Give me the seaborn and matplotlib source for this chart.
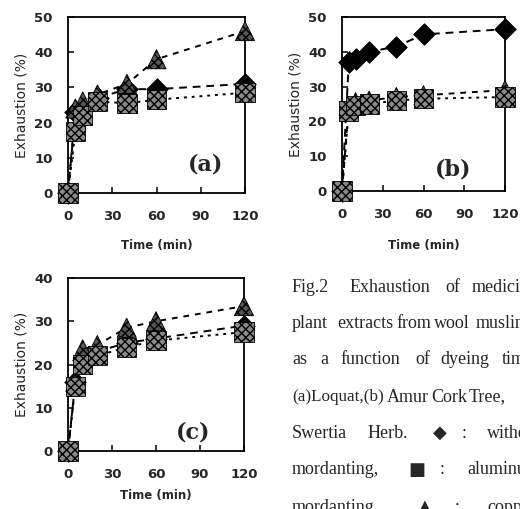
import matplotlib
matplotlib.use("Agg")
import matplotlib.pyplot as plt
import seaborn as sns
import pandas as pd

sns.set_theme(style="white")
plt.rcParams['font.family'] = ['DejaVu Sans']

time = [0, 5, 10, 20, 40, 60, 120]
a_without = [0, 23, 24, 27, 29.5, 29.5, 31]
a_alum = [0, 17.5, 22, 26, 25.5, 26.5, 28.5]
a_copper = [0, 24, 26, 28, 31, 38, 46]
b_without = [0, 37, 38, 40, 41.5, 45, 46.5]
b_alum = [0, 23, 24.5, 25, 26, 26.5, 27]
b_copper = [0, 24.5, 25.5, 26, 27, 27.5, 29]
c_without = [0, 16, 21, 23, 25, 26, 29]
c_alum = [0, 15, 20, 22, 24, 25.5, 27.5]
c_copper = [0, 16, 23.5, 24.5, 28.5, 30, 33.5]
xticks = [0, 30, 60, 90, 120]

W, H = 520, 509
fig = plt.figure(figsize=(W / 100, H / 100), dpi=100)


def px_axes(l, t, r, b):
    return fig.add_axes([l / W, 1 - b / H, (r - l) / W, (b - t) / H])


panels = [
    (px_axes(68, 17, 245, 193), a_without, a_alum, a_copper, 50, "(a)", (206, 165), 12),
    (px_axes(342, 17, 505, 191), b_without, b_alum, b_copper, 50, "(b)", (453, 170), 13),
    (px_axes(68, 278, 244, 451), c_without, c_alum, c_copper, 40, "(c)", (193, 432), 6),
]

tick_font = dict(family='DejaVu Sans', weight='bold', size=9.5)

for ax, wo, al, cu, ymax, lab, (lx, ly), lpad in panels:
    df = pd.DataFrame({"t": time, "wo": wo, "al": al, "cu": cu})
    sns.lineplot(data=df, x="t", y="cu", ax=ax, color="black", lw=1.4,
                 linestyle=(0, (3, 3)), zorder=2)
    sns.lineplot(data=df, x="t", y="wo", ax=ax, color="black", lw=1.4,
                 linestyle=(0, (4, 3)), zorder=2)
    sns.lineplot(data=df, x="t", y="al", ax=ax, color="black", lw=1.4,
                 linestyle=(0, (1.5, 2.5)), zorder=2)
    sns.scatterplot(data=df, x="t", y="cu", ax=ax, marker="^", s=190,
                    facecolor="#555555", edgecolor="black", linewidth=0.6,
                    hatch="xxxx", clip_on=False, zorder=4)
    sns.scatterplot(data=df, x="t", y="al", ax=ax, marker="s", s=190,
                    facecolor="#8a8a8a", edgecolor="black", linewidth=0.6,
                    hatch="xxxx", clip_on=False, zorder=5)
    sns.scatterplot(data=df, x="t", y="wo", ax=ax, marker="D", s=120,
                    facecolor="black", edgecolor="black", linewidth=0.6,
                    clip_on=False, zorder=3)
    ax.set_xlim(0, 120)
    ax.set_ylim(0, ymax)
    ax.set_xticks(xticks)
    ax.set_yticks(list(range(0, ymax + 1, 10)))
    ax.set_xticklabels([str(v) for v in xticks], fontdict=tick_font)
    ax.set_yticklabels([str(v) for v in range(0, ymax + 1, 10)], fontdict=tick_font)
    ax.tick_params(direction="in", length=4, width=1.1, pad=12, color="black",
                   bottom=True, left=True)
    ax.tick_params(axis="y", pad=11)
    for s in ax.spines.values():
        s.set_color("black")
        s.set_linewidth(1.3)
    ax.set_xlabel("Time (min)", family='DejaVu Sans', weight='bold', size=8.5, labelpad=lpad)
    ax.set_ylabel("Exhaustion (%)", family='DejaVu Sans', size=10, labelpad=4)
    fig.text(lx / W, 1 - ly / H, lab, family='DejaVu Serif', weight='bold', size=16,
             ha='center', va='center')

cap_font = dict(family=['Liberation Serif', 'DejaVu Serif'], size=13)
sym_font = dict(family=['DejaVu Sans'], size=13)
lines = [
    (287, [("Fig.2", 292), ("Exhaustion", 350), ("of", 445), ("medicinal", 472)]),
    (323, [("plant", 292), ("extracts", 337), ("from", 396), ("wool", 434), ("muslin", 476)]),
    (360, [("as", 292), ("a", 320), ("function", 340), ("of", 415), ("dyeing", 440), ("time.", 502)]),
    (397, [("(a)Loquat,(b)", 292), ("Amur", 387), ("Cork", 431), ("Tree,", 469)]),
    (433, [("Swertia", 292), ("Herb.", 368), ("\u25C6", 433), (":", 462), ("without", 487)]),
    (470, [("mordanting,", 292), ("\u25A0", 408), (":", 440), ("aluminum", 467)]),
    (507, [("mordanting,", 292), ("\u25B2", 418), (":", 455), ("copper", 487)]),
]
for y, words in lines:
    for w, x in words:
        f = sym_font if w in ("\u25C6", "\u25A0", "\u25B2") else cap_font
        if w == "(a)Loquat,(b)":
            f = dict(cap_font, size=12.3)
        fig.text(x / W, 1 - y / H, w, ha='left', va='center', **f)

fig.savefig("out.png", dpi=100)
